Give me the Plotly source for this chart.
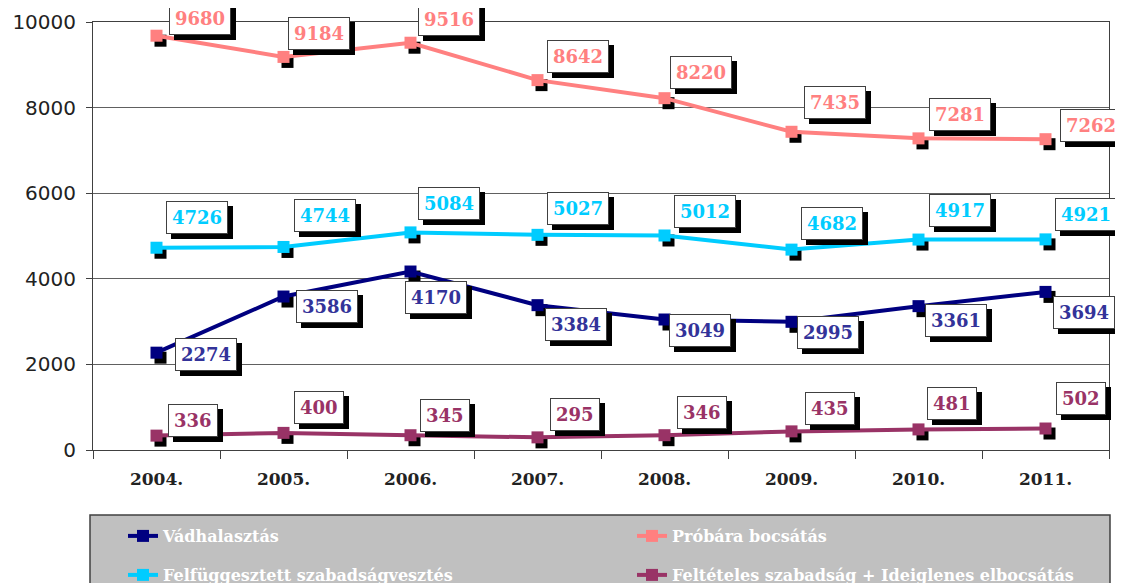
import plotly.graph_objects as go

# ---------------- data ----------------
years = ["2004.", "2005.", "2006.", "2007.", "2008.", "2009.", "2010.", "2011."]
vadhalasztas = [2274, 3586, 4170, 3384, 3049, 2995, 3361, 3694]
probara = [9680, 9184, 9516, 8642, 8220, 7435, 7281, 7262]
felfuggesztett = [4726, 4744, 5084, 5027, 5012, 4682, 4917, 4921]
felteteles = [336, 400, 345, 295, 346, 435, 481, 502]

series_names = [
    "Vádhalasztás",
    "Próbára bocsátás",
    "Felfüggesztett szabadságvesztés",
    "Feltételes szabadság + Ideiglenes elbocsátás",
]

# ---------------- styling ----------------
line_colors = ["#000080", "#FF8080", "#00CCFF", "#993366"]
label_colors = ["#333399", "#FF8080", "#00CCFF", "#993366"]

# label offsets (px) relative to each point: (xshift, yshift)
label_dx = [
    [49, 43, 25, 38, 35, 36, 37, 38],
    [43, 35, 38, 40, 36, 43, 41, 45],
    [40, 41, 38, 40, 40, 40, 41, 40],
    [36, 35, 34, 37, 37, 38, 33, 35],
]
label_dy = [
    [-2, -10, -26, -19, -11, -11, -14, -21],
    [17, 23, 23, 24, 26, 29, 24, 14],
    [30, 31, 29, 26, 24, 26, 29, 25],
    [15, 25, 20, 23, 23, 23, 26, 30],
]

data_series = [vadhalasztas, probara, felfuggesztett, felteteles]
legend_ids = ["legend", "legend2", "legend3", "legend4"]
# legend anchor points in window pixels
legend_pos = [(123, 536), (632, 536), (123, 575), (632, 575)]

# The page body has an 8px margin; compensate so window pixels match
OFF = 8
WIN_W, WIN_H = 1123, 583
W, H = WIN_W - OFF, WIN_H - OFF
# plot area in window pixels
P_LEFT, P_RIGHT, P_TOP, P_BOTTOM = 93, 1109, 22, 450
PLOT_L = P_LEFT - OFF
PLOT_T = P_TOP - OFF
PLOT_R = W - (P_RIGHT - OFF)
PLOT_B = H - (P_BOTTOM - OFF)
pw = P_RIGHT - P_LEFT
ph = P_BOTTOM - P_TOP
YMAX = 10000

# shadow offsets (px)
sdx, sdy = 4, 5
cat_px = pw / len(years)
dx_units = sdx / cat_px
dy_units = sdy * YMAX / ph

fig = go.Figure()

# invisible anchor trace on main axes
fig.add_trace(go.Scatter(x=years, y=probara, mode="markers", marker=dict(opacity=0),
                         showlegend=False, hoverinfo="skip", xaxis="x", yaxis="y"))

# marker shadows
for vals in data_series:
    fig.add_trace(go.Scatter(
        x=years, y=vals, mode="markers",
        marker=dict(symbol="square", size=12, color="black"),
        showlegend=False, hoverinfo="skip", xaxis="x2", yaxis="y2", cliponaxis=False))

# real series
for name, vals, col, lg in zip(series_names, data_series, line_colors, legend_ids):
    fig.add_trace(go.Scatter(
        x=years, y=vals, mode="lines+markers", name=name,
        line=dict(color=col, width=4),
        marker=dict(symbol="square", size=12, color=col),
        xaxis="x3", yaxis="y3", legend=lg, cliponaxis=False))

# data labels with shadow boxes
annotations = []
for vals, lc, dxs, dys in zip(data_series, label_colors, label_dx, label_dy):
    for i, (v, dx, dy) in enumerate(zip(vals, dxs, dys)):
        common = dict(x=i, y=v, xref="x", yref="y", showarrow=False,
                      xanchor="center", yanchor="middle", borderpad=5, borderwidth=1,
                      text="<b>%d</b>" % v)
        annotations.append(dict(common, xshift=dx + 5, yshift=dy - 5,
                                font=dict(family="DejaVu Serif", size=18, color="black"),
                                bgcolor="black", bordercolor="black"))
        annotations.append(dict(common, xshift=dx, yshift=dy,
                                font=dict(family="DejaVu Serif", size=18, color=lc),
                                bgcolor="white", bordercolor="#404040"))

def px_x(p):
    return (p - P_LEFT) / pw

def px_y(p):
    return (P_BOTTOM - p) / ph

shapes = [dict(type="rect", xref="paper", yref="paper",
               x0=px_x(90), x1=px_x(1110), y0=px_y(515), y1=px_y(640),
               fillcolor="#C0C0C0", line=dict(color="#404040", width=1.5), layer="below")]

axis_common = dict(type="category", range=[-0.5, len(years) - 0.5])
legend_font = dict(family="DejaVu Serif", size=16, color="white", weight="bold")

legends = {}
for lg, (lx, ly) in zip(legend_ids, legend_pos):
    legends[lg] = dict(orientation="h", xref="container", yref="container",
                       x=(lx - OFF) / W, xanchor="left", y=1 - (ly - OFF) / H, yanchor="middle",
                       bgcolor="rgba(0,0,0,0)", font=legend_font)

fig.update_layout(
    width=W, height=H,
    margin=dict(l=PLOT_L, r=PLOT_R, t=PLOT_T, b=PLOT_B, autoexpand=False),
    paper_bgcolor="white", plot_bgcolor="white",
    xaxis=dict(axis_common, showgrid=False, showline=True, linecolor="#404040", linewidth=1,
               mirror=True, ticks="outside", ticklen=8, tickcolor="#404040",
               tickson="boundaries", ticklabelstandoff=14, automargin=False,
               tickfont=dict(family="DejaVu Serif", size=17, color="#222222", weight="bold")),
    yaxis=dict(range=[0, YMAX], dtick=2000, tickformat="d", showgrid=True,
               gridcolor="#606060", gridwidth=1,
               showline=True, linecolor="#404040", linewidth=1, mirror=True,
               ticks="outside", ticklen=6, tickcolor="#404040", zeroline=False,
               ticklabelstandoff=6, automargin=False,
               tickfont=dict(family="DejaVu Sans", size=20, color="#222222")),
    xaxis2=dict(type="category", range=[-0.5 - dx_units, len(years) - 0.5 - dx_units],
                overlaying="x", visible=False),
    yaxis2=dict(range=[dy_units, YMAX + dy_units], overlaying="y", visible=False),
    xaxis3=dict(axis_common, overlaying="x", visible=False),
    yaxis3=dict(range=[0, YMAX], overlaying="y", visible=False),
    annotations=annotations,
    shapes=shapes,
    showlegend=True,
    **legends,
)

fig.write_html("out.html")
